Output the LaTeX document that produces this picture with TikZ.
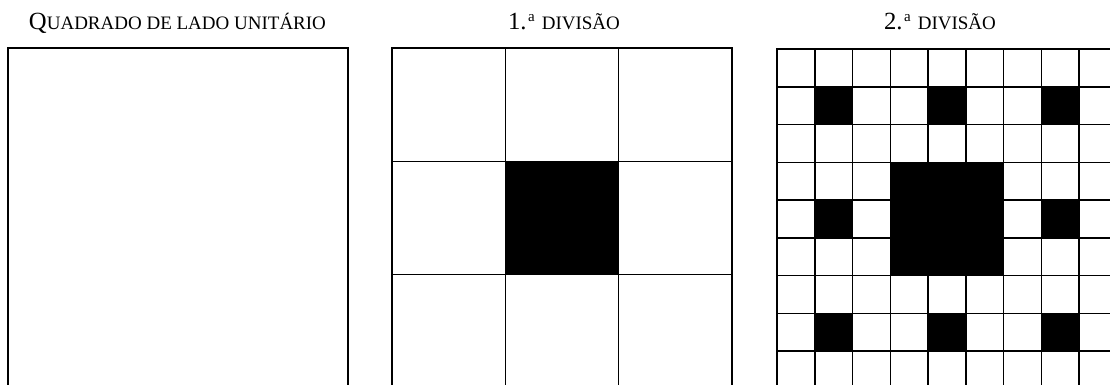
\documentclass[tikz,border=0pt]{standalone}
\usepackage{fontspec}
\setmainfont{Liberation Serif}
% fake small caps: big initial, smaller capitals
\newcommand{\capsA}[1]{{\fontsize{24.7}{28}\selectfont #1}}
\newcommand{\capsB}[1]{{\fontsize{19}{23}\selectfont #1}}
\newcommand{\ordA}{\hspace{1.5pt}\raisebox{8.3pt}{\fontsize{15}{16}\selectfont a}\hspace{7pt}}

\begin{document}
\begin{tikzpicture}[
    x=1pt, y=-1pt, line width=1.6pt, color=black,
    title/.style={anchor=base, inner sep=0pt, text=black},
    cell/.style={fill=black}]
  % fixed 1110 x 385 canvas, bottom edges run off the page
  \path[use as bounding box] (0,0) rectangle (1110,385);
  \clip (0,0) rectangle (1110,385);

  % ================= 1) unit square =================
  \node[title] (unit) at (177.5,30) {\capsA{Q}\capsB{UADRADO DE LADO UNITÁRIO}};
  \draw (8,48) rectangle (348,388);

  % ================= 2) first division =================
  \node[title] (first) at (564,30) {\capsA{1.}\ordA\capsB{DIVISÃO}};
  \fill[cell] (505.33,161.33) rectangle (618.67,274.67);
  \foreach \k in {1,2} {
    \draw (392+113.33*\k,48) -- (392+113.33*\k,388);
    \draw (392,48+113.33*\k) -- (732,48+113.33*\k);
  }
  \draw (392,48) rectangle (732,388);

  % ================= 3) second division =================
  \node[title] (second) at (940,30) {\capsA{2.}\ordA\capsB{DIVISÃO}};
  \begin{scope}[shift={(777,49)}, x=37.78pt, y=-37.78pt]
    \fill[cell] (3,3) rectangle (6,6);
    \foreach \c/\r in {1/1,4/1,7/1,1/4,7/4,1/7,4/7,7/7}
      \fill[cell] (\c,\r) rectangle ++(1,1);
    \foreach \k in {1,...,8} {
      \draw (\k,0) -- (\k,9);
      \draw (0,\k) -- (9,\k);
    }
    \draw (0,0) rectangle (9,9);
  \end{scope}
\end{tikzpicture}
\end{document}
